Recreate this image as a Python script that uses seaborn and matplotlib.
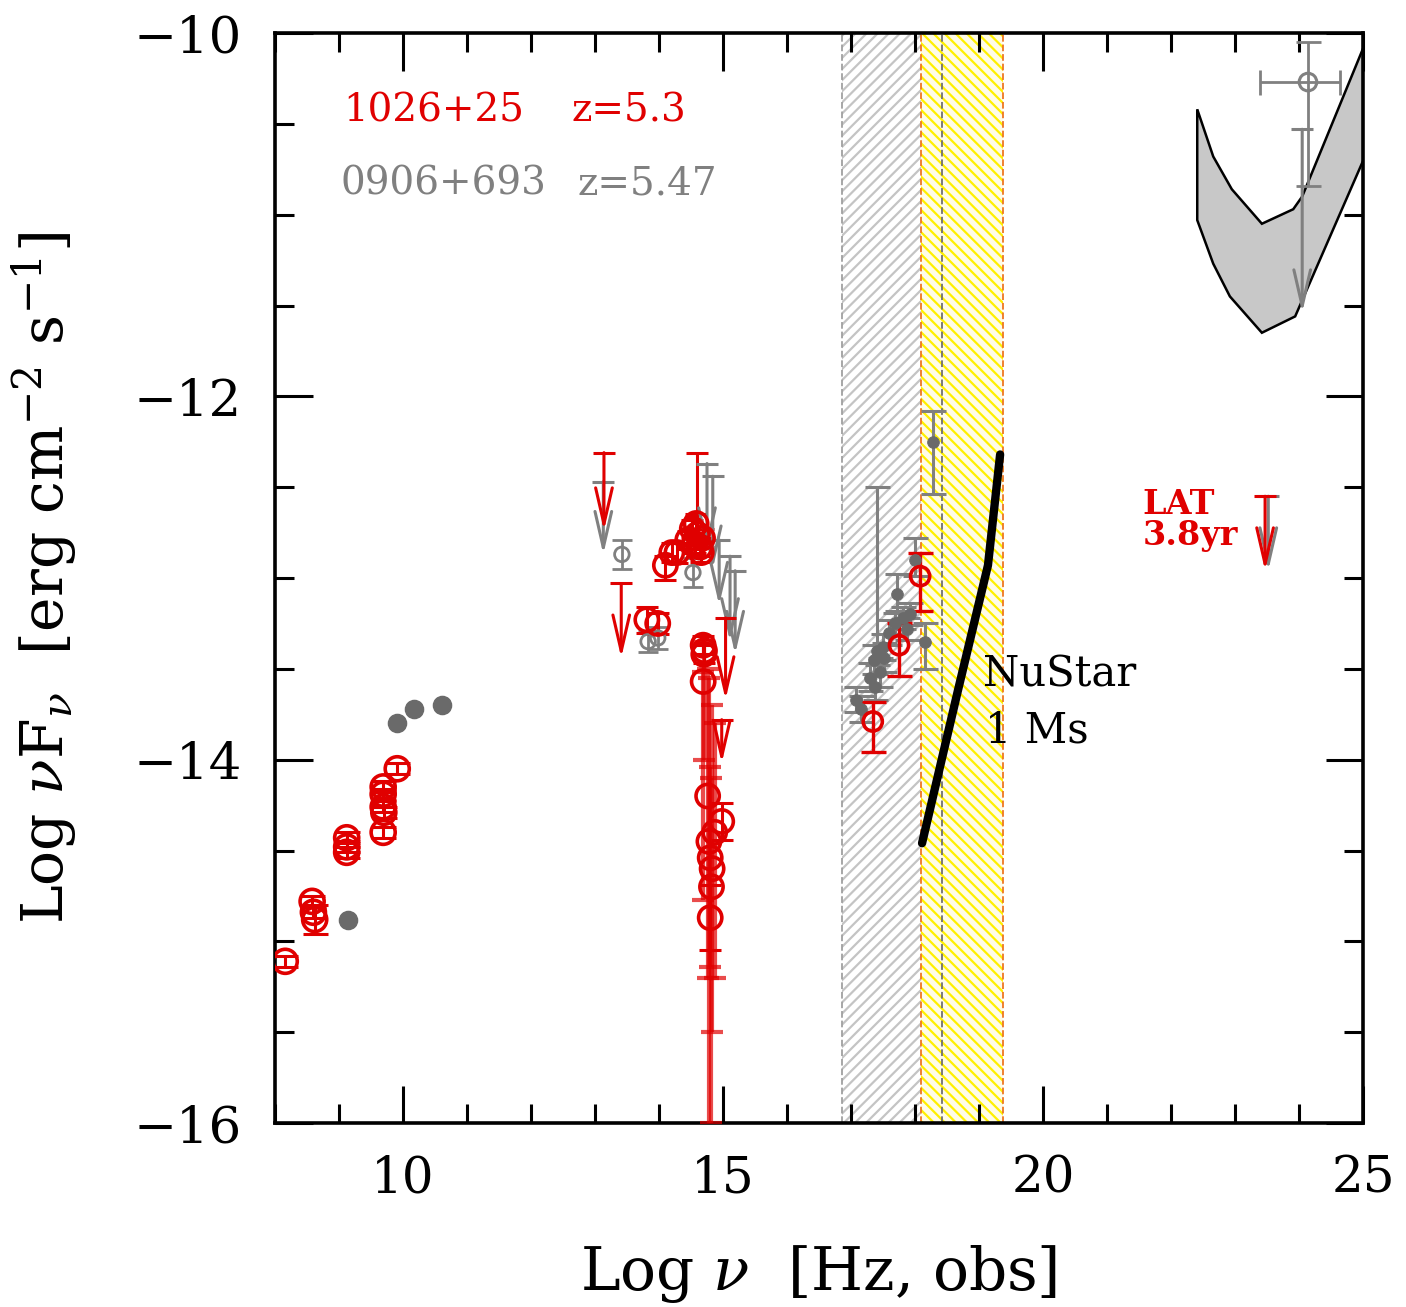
import numpy as np
import pandas as pd
import matplotlib
matplotlib.use("Agg")
import matplotlib.pyplot as plt
import seaborn as sns

# ---------------- data ----------------
# red source 1026+25 : radio (open circles)
r_radio_x = [8.16, 8.58, 8.60, 8.62, 9.12, 9.12, 9.12, 9.69, 9.69, 9.69, 9.70, 9.69, 9.91]
r_radio_y = [-15.11, -14.78, -14.84, -14.88, -14.43, -14.48, -14.51, -14.15, -14.19, -14.26, -14.29, -14.40, -14.05]
r_radio_e = [0.03, 0.03, 0.03, 0.08, 0.03, 0.03, 0.03, 0.03, 0.03, 0.03, 0.03, 0.03, 0.03]

# red IR/optical (open circles)
r_opt_x = [13.81, 13.98, 14.10, 14.20, 14.28, 14.45, 14.52, 14.56, 14.60, 14.64, 14.68, 14.58, 14.66,
           14.69, 14.70, 14.69, 14.71, 14.78, 14.80, 14.80, 14.83, 14.87, 14.76, 14.82, 14.98]
r_opt_y = [-13.23, -13.25, -12.93, -12.86, -12.86, -12.79, -12.73, -12.81, -12.76, -12.83, -12.78, -12.70, -12.86,
           -13.37, -13.42, -13.57, -13.40, -14.45, -14.54, -14.87, -14.60, -14.40, -14.20, -14.70, -14.34]
r_opt_lo = [0.07, 0.06, 0.08, 0.05, 0.06, 0.05, 0.05, 0.05, 0.05, 0.05, 0.05, 0.05, 0.05,
            0.05, 0.05, 1.20, 0.60, 1.60, 0.60, 0.18, 0.90, 0.80, 1.00, 1.30, 0.10]
r_opt_hi = [0.07, 0.06, 0.05, 0.05, 0.05, 0.05, 0.05, 0.05, 0.45, 0.05, 0.05, 0.05, 0.05,
            0.05, 0.05, 0.05, 0.05, 0.90, 0.50, 0.18, 0.90, 0.60, 0.70, 0.60, 0.10]

# red X-ray (open circles)
r_x_x = [17.34, 17.75, 18.08]
r_x_y = [-13.79, -13.37, -12.99]
r_x_lo = [0.17, 0.17, 0.19]
r_x_hi = [0.11, 0.12, 0.13]

# red upper limits: x, top (cap), tip
r_ul_x = [13.14, 13.41, 14.98, 15.04, 23.47]
r_ul_top = [-12.31, -13.03, -13.78, -13.22, -12.55]
r_ul_tip = [-12.74, -13.44, -14.02, -13.67, -12.96]

# grey source 0906+693 : radio (filled)
g_radio_x = [9.14, 9.91, 10.17, 10.61]
g_radio_y = [-14.88, -13.80, -13.72, -13.70]

# grey optical (open circles)
g_opt_x = [13.42, 13.83, 13.98, 14.53]
g_opt_y = [-12.87, -13.35, -13.33, -12.97]
g_opt_e = [0.08, 0.06, 0.06, 0.08]

# grey X-ray (filled)
g_x_x = [17.08, 17.15, 17.30, 17.36, 17.41, 17.46, 17.52, 17.60, 17.72, 17.82, 17.92, 18.00, 18.16, 18.28,
         17.38, 17.50, 17.68, 17.88]
g_x_y = [-13.67, -13.72, -13.55, -13.45, -13.40, -13.52, -13.44, -13.30, -13.09, -13.22, -13.20, -12.90, -13.35, -12.25,
         -13.60, -13.38, -13.25, -13.28]
g_x_lo = [0.07, 0.07, 0.07, 0.08, 0.08, 0.08, 0.08, 0.07, 0.09, 0.06, 0.06, 0.09, 0.15, 0.29,
          0.07, 0.07, 0.06, 0.06]
g_x_hi = [0.07, 0.07, 0.08, 0.08, 0.90, 0.08, 0.08, 0.07, 0.11, 0.06, 0.06, 0.12, 0.10, 0.17,
          0.07, 0.07, 0.06, 0.06]

# grey upper limits
g_ul_x = [13.13, 14.75, 14.84, 14.94, 15.11, 15.19, 23.52, 24.05]
g_ul_top = [-12.47, -12.37, -12.44, -12.79, -12.88, -12.96, -12.55, -10.53]
g_ul_tip = [-12.87, -12.85, -12.95, -13.15, -13.35, -13.42, -12.96, -11.54]

# grey gamma-ray point
g_gam_x = [24.14]
g_gam_y = [-10.27]
g_gam_xlo, g_gam_xhi = [0.75], [0.50]
g_gam_ylo, g_gam_yhi = [0.57], [0.22]

# Fermi bow-tie (upper and lower edges)
bow_up_x = [22.41, 22.66, 22.95, 23.42, 23.91, 24.05, 25.03]
bow_up_y = [-10.42, -10.68, -10.86, -11.05, -10.97, -10.90, -10.06]
bow_lo_x = [22.41, 22.66, 22.92, 23.42, 23.94, 25.03]
bow_lo_y = [-11.03, -11.27, -11.45, -11.65, -11.56, -10.68]

# NuSTAR 1 Ms sensitivity
nu_x = [18.11, 18.67, 19.14, 19.33]
nu_y = [-14.46, -13.62, -12.93, -12.32]

# bands
grey_band = (16.86, 18.42)
yellow_band = (18.09, 19.37)

# ---------------- style ----------------
sns.set_theme(style="ticks")
plt.rcParams["font.family"] = ["DejaVu Serif"]
plt.rcParams["mathtext.fontset"] = "dejavuserif"
plt.rcParams["hatch.linewidth"] = 1.6
for k in ["text.color", "axes.labelcolor", "xtick.color", "ytick.color", "axes.edgecolor"]:
    plt.rcParams[k] = "black"

RED = "#e00000"
GREY = "#808080"
DGREY = "#6a6a6a"

fig = plt.figure(figsize=(14.06, 13.07), dpi=100)
ax = fig.add_axes([0.19559, 0.14078, 0.77383, 0.83397])

# bands
ax.axvspan(*grey_band, facecolor="white", edgecolor="#c4c4c4", hatch="///", lw=0, zorder=0)
ax.axvspan(*yellow_band, facecolor="#fffce8", edgecolor="#fff000", hatch="\\\\\\", lw=0, zorder=0.5)
ax.axvline(grey_band[0], color="#a0a0a0", ls="--", lw=1.3, zorder=1)
ax.axvline(grey_band[1], color="#707070", ls="--", lw=1.3, zorder=1)
for xv in yellow_band:
    ax.axvline(xv, color="#ee7722", ls="--", lw=1.3, zorder=1)

# bow tie
poly_x = bow_up_x + bow_lo_x[::-1]
poly_y = bow_up_y + bow_lo_y[::-1]
ax.fill(poly_x, poly_y, facecolor="#c8c8c8", edgecolor="black", lw=1.8, zorder=2)

# NuSTAR
sns.lineplot(x=nu_x, y=nu_y, ax=ax, color="black", lw=6, sort=False, zorder=5, estimator=None)

def ebar(x, y, lo, hi, color, capsize, lw, alpha=1.0, xlo=None, xhi=None):
    xerr = None if xlo is None else [xlo, xhi]
    ax.errorbar(x, y, yerr=[lo, hi], xerr=xerr, fmt="none", ecolor=color, elinewidth=lw,
                capsize=capsize, capthick=lw, alpha=alpha, zorder=3)

def upper(xs, tops, tips, color, lw=2.2):
    for x, t, b in zip(xs, tops, tips):
        ax.plot([x - 0.17, x + 0.17], [t, t], color=color, lw=lw, zorder=4, solid_capstyle="butt")
        ax.annotate("", xy=(x, b), xytext=(x, t),
                    arrowprops=dict(arrowstyle="->,head_length=1.3,head_width=0.3",
                                    color=color, lw=lw, shrinkA=0, shrinkB=0,
                                    mutation_scale=20), zorder=4)

# grey data
ebar(g_opt_x, g_opt_y, g_opt_e, g_opt_e, GREY, 7, 2.0)
sns.scatterplot(x=g_opt_x, y=g_opt_y, ax=ax, s=110, facecolors="none", edgecolor=GREY,
                linewidth=2.0, zorder=4)
ebar(g_x_x, g_x_y, g_x_lo, g_x_hi, GREY, 9, 2.2)
sns.scatterplot(x=g_x_x, y=g_x_y, ax=ax, s=70, color=DGREY, edgecolor=DGREY, zorder=4)
sns.scatterplot(x=g_radio_x, y=g_radio_y, ax=ax, s=170, color=DGREY, edgecolor=DGREY, zorder=4)
upper(g_ul_x, g_ul_top, g_ul_tip, GREY)
ebar(g_gam_x, g_gam_y, g_gam_ylo, g_gam_yhi, GREY, 9, 2.0, xlo=g_gam_xlo, xhi=g_gam_xhi)
sns.scatterplot(x=g_gam_x, y=g_gam_y, ax=ax, s=160, facecolors="none", edgecolor=GREY,
                linewidth=2.2, zorder=4)

# red data
ebar(r_radio_x, r_radio_y, r_radio_e, r_radio_e, RED, 9, 2.2)
sns.scatterplot(x=r_radio_x, y=r_radio_y, ax=ax, s=300, facecolors="none", edgecolor=RED,
                linewidth=2.6, zorder=5)
big = [i for i in range(len(r_opt_x)) if r_opt_lo[i] > 0.3]
small = [i for i in range(len(r_opt_x)) if r_opt_lo[i] <= 0.3]
ebar([r_opt_x[i] for i in big], [r_opt_y[i] for i in big], [r_opt_lo[i] for i in big],
     [r_opt_hi[i] for i in big], RED, 8, 3.0, alpha=0.7)
ebar([r_opt_x[i] for i in small], [r_opt_y[i] for i in small], [r_opt_lo[i] for i in small],
     [r_opt_hi[i] for i in small], RED, 8, 2.2)
sns.scatterplot(x=r_opt_x, y=r_opt_y, ax=ax, s=280, facecolors="none", edgecolor=RED,
                linewidth=2.6, zorder=5)
ebar(r_x_x, r_x_y, r_x_lo, r_x_hi, RED, 9, 2.4)
sns.scatterplot(x=r_x_x, y=r_x_y, ax=ax, s=190, facecolors="none", edgecolor=RED,
                linewidth=2.6, zorder=5)
upper(r_ul_x, r_ul_top, r_ul_tip, RED)

# texts
ax.text(9.06, -10.43, "1026+25", color=RED, fontsize=28, va="center", ha="left")
ax.text(12.64, -10.43, "z=5.3", color=RED, fontsize=28, va="center", ha="left")
ax.text(9.02, -10.83, "0906+693", color=GREY, fontsize=28, va="center", ha="left")
ax.text(12.72, -10.83, "z=5.47", color=GREY, fontsize=28, va="center", ha="left")
ax.text(19.06, -13.53, "NuStar", color="black", fontsize=30, va="center", ha="left")
ax.text(19.1, -13.84, "1 Ms", color="black", fontsize=30, va="center", ha="left")
ax.text(21.55, -12.68, "LAT\n3.8yr", color=RED, fontsize=24, fontweight="bold",
        va="center", ha="left", linespacing=0.95)

# axes
ax.set_xlim(8, 25)
ax.set_ylim(-16, -10)
ax.set_xticks([10, 15, 20, 25])
ax.set_xticks(np.arange(8, 26, 1), minor=True)
ax.set_yticks([-16, -14, -12, -10])
ax.set_yticks(np.arange(-16, -9.9, 0.5), minor=True)
ax.set_yticklabels(["\u221216", "\u221214", "\u221212", "\u221210"])
ax.tick_params(which="both", direction="in", top=True, right=True, width=2.2, color="black")
ax.tick_params(which="major", length=27)
ax.tick_params(which="minor", length=14)
ax.tick_params(axis="x", which="major", labelsize=36, pad=22)
ax.tick_params(axis="y", which="major", labelsize=37, pad=24)
for s in ax.spines.values():
    s.set_linewidth(2.6)
    s.set_color("black")
    s.set_visible(True)

ax.set_xlabel(r"Log $\nu$  [Hz, obs]", fontsize=43)
ax.set_ylabel(r"Log $\nu$F$_\nu$  [erg cm$^{-2}$ s$^{-1}$]", fontsize=42)
ax.xaxis.set_label_coords(0.5, -0.110)
ax.yaxis.set_label_coords(-0.180, 0.5)

fig.savefig("out.png", dpi=100)
